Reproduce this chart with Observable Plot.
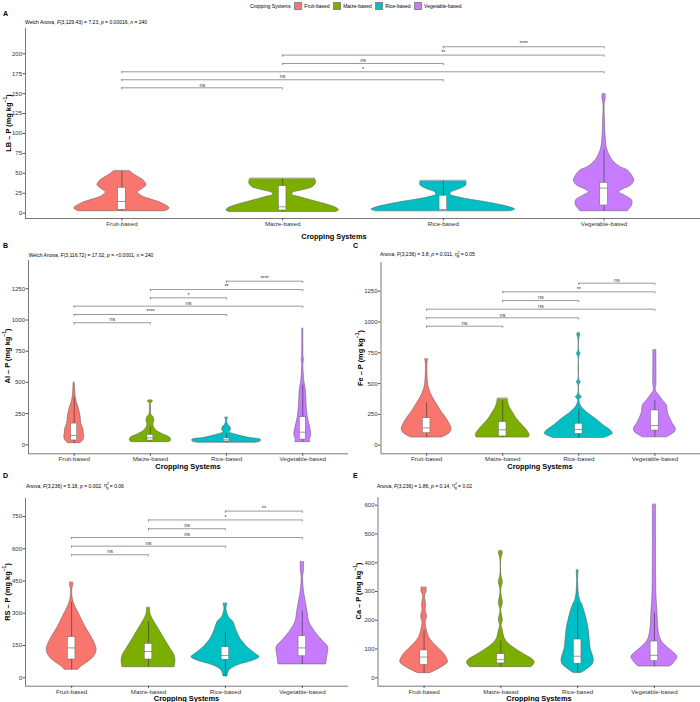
<!DOCTYPE html>
<html><head><meta charset="utf-8">
<script src="https://cdn.jsdelivr.net/npm/d3@7"></script>
<script src="https://cdn.jsdelivr.net/npm/@observablehq/plot@0.6"></script>
<style>
body{margin:0;background:#fff;font-family:"Liberation Sans",Arial,sans-serif;}
#root{position:relative;width:700px;height:702px;overflow:hidden;background:#fff;}
#root svg{position:absolute;left:0;top:0;}
.t{position:absolute;white-space:nowrap;color:#000;line-height:1;}
.sub{font-size:5px;transform:translateY(-50%);}
.let{font-size:7px;font-weight:bold;transform:translateY(-50%);}
.xt{font-size:7.4px;font-weight:bold;transform:translate(-50%,-50%);}
.yt{font-size:7.4px;font-weight:bold;transform:translate(-50%,-50%) rotate(-90deg);}
.yt sup{font-size:5px;vertical-align:4px;}
.eta sup{font-size:3.6px;vertical-align:2.5px;}
.eta sub{font-size:3.6px;vertical-align:-1.5px;margin-left:-2.2px;}
.leg{font-size:5px;display:flex;align-items:center;top:2px;left:250px;height:8px;}
.sw{display:inline-block;width:6.5px;height:6.5px;border:0.5px solid #888;margin:0 2px 0 3px;}
</style></head><body><div id="root"></div>
<script>
// ---------- data ----------
const categories = ["Fruit-based", "Maize-based", "Rice-based", "Vegetable-based"];
const colors = ["#F8766D", "#7CAE00", "#00BFC4", "#C77CFF"];

// violin profiles: [value (mg/kg), relative half-width]
const lbFruit = [[52.7,0.05],[48,0.08],[41,0.135],[35,0.152],[30,0.125],[26.3,0.1],[22,0.12],[18,0.168],[12,0.255],[6,0.297],[2.5,0.27]];
const lbMaize = [[43,0.202],[38,0.208],[33,0.19],[29,0.13],[25.5,0.065],[23,0.06],[20,0.11],[15,0.2],[10,0.29],[6,0.34],[3.5,0.35],[1.5,0.33]];
const lbRice = [[40.2,0.142],[35,0.143],[30,0.1],[26,0.05],[23,0.045],[20,0.09],[16,0.2],[11.8,0.32],[7,0.42],[4.5,0.447],[2.3,0.42]];
const lbVeg = [[149,0.01],[143,0.01],[137,0.004],[115,0.006],[95,0.01],[80,0.02],[66,0.054],[58,0.1],[53.6,0.148],[47,0.175],[41,0.188],[35,0.17],[30,0.12],[26.3,0.094],[22,0.13],[16,0.175],[10,0.175],[5.5,0.16],[2.5,0.148]];

const alFruit = [[497,0.007],[440,0.013],[380,0.02],[330,0.04],[280,0.065],[220,0.085],[170,0.092],[130,0.118],[90,0.125],[60,0.131],[35,0.118],[13,0.08]];
const alMaize = [[355,0.026],[347,0.033],[328,0.007],[300,0.007],[240,0.013],[221,0.04],[195,0.052],[155,0.04],[115,0.08],[80,0.18],[56,0.26],[34,0.27],[21,0.25]];
const alRice = [[216,0.02],[195,0.007],[160,0.02],[147,0.046],[135,0.055],[120,0.059],[101,0.04],[80,0.13],[56,0.29],[40,0.45],[26,0.445],[16,0.37]];
const alVeg = [[929,0.007],[800,0.007],[702,0.01],[680,0.016],[650,0.008],[515,0.02],[489,0.026],[435,0.04],[301,0.052],[221,0.066],[168,0.085],[115,0.105],[75,0.111],[42,0.092],[21,0.098]];

const feFruit = [[696,0.02],[674,0.013],[633,0.009],[498,0.02],[444,0.04],[390,0.079],[336,0.131],[282,0.184],[227,0.25],[174,0.302],[133,0.328],[106,0.315],[87,0.28],[62,0.2]];
const feMaize = [[376,0.066],[349,0.072],[308,0.092],[268,0.131],[214,0.184],[160,0.263],[114,0.328],[79,0.355],[62,0.342]];
const feRice = [[909,0.015],[895,0.02],[870,0.007],[760,0.007],[742,0.026],[720,0.007],[530,0.007],[511,0.026],[490,0.007],[410,0.01],[390,0.04],[370,0.01],[322,0.026],[268,0.105],[214,0.223],[160,0.328],[119,0.42],[92,0.447],[75,0.4],[58,0.33]];
const feVeg = [[769,0.02],[700,0.02],[490,0.02],[444,0.013],[417,0.04],[363,0.105],[322,0.158],[268,0.17],[222,0.197],[174,0.236],[133,0.276],[106,0.263],[79,0.2],[64,0.16]];

const rsFruit = [[442,0.02],[429,0.02],[406,0.007],[359,0.02],[328,0.052],[282,0.117],[235,0.182],[189,0.26],[150,0.312],[127,0.325],[96,0.286],[65,0.18],[50,0.12],[37,0.09]];
const rsMaize = [[325,0.02],[297,0.026],[266,0.065],[220,0.143],[173,0.22],[135,0.286],[104,0.338],[80,0.35],[49,0.34]];
const rsRice = [[344,0.026],[321,0.013],[282,0.045],[259,0.104],[220,0.143],[181,0.195],[142,0.286],[112,0.39],[96,0.442],[80,0.364],[57,0.156],[34,0.052],[6,0.026]];
const rsVeg = [[537,0.022],[499,0.02],[468,0.01],[406,0.02],[352,0.045],[313,0.065],[259,0.091],[212,0.169],[173,0.26],[142,0.335],[112,0.33],[88,0.32],[62,0.31]];

const caFruit = [[313,0.033],[298,0.033],[286,0.013],[251,0.026],[234,0.02],[211,0.039],[193,0.02],[170,0.033],[141,0.065],[118,0.13],[101,0.196],[78,0.274],[54,0.31],[37,0.235],[16,0.078]];
const caMaize = [[440,0.02],[434,0.026],[414,0.007],[356,0.007],[332,0.026],[310,0.007],[292,0.007],[257,0.026],[240,0.007],[228,0.007],[199,0.026],[182,0.009],[164,0.026],[136,0.052],[112,0.13],[95,0.222],[78,0.326],[60,0.43],[51,0.44],[37,0.4]];
const caRice = [[373,0.013],[332,0.007],[275,0.026],[251,0.065],[217,0.104],[170,0.143],[136,0.156],[101,0.17],[66,0.209],[49,0.202],[31,0.13],[17,0.052]];
const caVeg = [[601,0.02],[500,0.02],[350,0.022],[286,0.026],[228,0.039],[170,0.052],[136,0.078],[112,0.143],[91,0.235],[72,0.3],[58,0.274],[39,0.209]];

// boxplots per category: [q1, median, q3, whisker low, whisker high]
const lbBox = [[4.3,14.7,31.9,2.5,52.7],[3.4,8,33.9,1.5,43],[2.5,4.6,21.8,2.3,40.2],[9.7,31.4,38,2.5,80]];
const alBox = [[35,75,170,13,380],[34,56,80,21,145],[26,40,51,16,88],[42,101,221,21,480]];
const feBox = [[97,141,219,62,344],[71,125,187,62,360],[92,127,174,58,295],[119,160,282,64,363]];
const rsBox = [[85,139,189,37,350],[85,122,158,49,260],[84,104,142,6,210],[100,139,193,62,310]];
const caBox = [[45,72,95,16,165],[50,63,82,37,128],[49,75,133,17,260],[58,78,126,39,225]];

// pairwise comparisons: [group a, group b, bracket value, label]
const lbSig = [[1,2,157.3,"ns"],[1,3,167.4,"ns"],[1,4,177.4,"*"],[2,3,187.8,"ns"],[2,4,198.3,"**"],[3,4,208.8,"****"]];
const alSig = [[1,2,978,"ns"],[1,3,1044,"****"],[1,4,1111,"ns"],[2,3,1178,"*"],[2,4,1244,"**"],[3,4,1311,"****"]];
const feSig = [[1,2,966,"ns"],[1,3,1034,"ns"],[1,4,1104,"ns"],[2,3,1174,"ns"],[2,4,1245,"**"],[3,4,1315,"ns"]];
const rsSig = [[1,2,572,"ns"],[1,3,612,"ns"],[1,4,652,"ns"],[2,3,693,"ns"],[2,4,734,"*"],[3,4,775,"**"]];

// tick values
const lbTicks = [0,25,50,75,100,125,150,175,200];
const alTicks = [0,250,500,750,1000,1250];
const feTicks = [0,250,500,750,1000,1250];
const rsTicks = [0,150,300,450,600,750];
const caTicks = [0,100,200,300,400,500,600];

// ---------- drawing ----------
const root = document.getElementById("root");
const FONT = '"Liberation Sans", Arial, sans-serif';

function panel(cfg) {
  const {left, right, top, bottom, ymin, ymax, ticks, violins, boxes, sig, boxPx} = cfg;
  const spacing = (right - left) / 4.2;
  const kY = (bottom - top) / (ymax - ymin);
  const bw = boxPx / spacing;
  const vdata = [];
  violins.forEach((prof, i) => prof.forEach(([v, w]) => vdata.push({cat: categories[i], pos: i + 1, v, w})));
  const bdata = boxes.map((b, i) => ({cat: categories[i], pos: i + 1, q1: b[0], med: b[1], q3: b[2], lo: b[3], hi: b[4]}));
  const sdata = (sig || []).map(([a, b, y, lab]) => ({a, b, y, lab}));
  const tip = 2.2 / kY;
  const marks = [
    Plot.areaX(vdata, {y: "v", x1: d => d.pos - d.w, x2: d => d.pos + d.w, z: "cat", fill: "cat",
      stroke: "#555", strokeWidth: 0.5, curve: "catmull-rom"}),
    Plot.ruleX(bdata, {x: "pos", y1: "lo", y2: "hi", stroke: "#333", strokeWidth: 0.6}),
    Plot.rect(bdata, {x1: d => d.pos - bw, x2: d => d.pos + bw, y1: "q1", y2: "q3", fill: "white", stroke: "#666", strokeWidth: 0.5}),
    Plot.ruleY(bdata, {y: "med", x1: d => d.pos - bw, x2: d => d.pos + bw, stroke: "#555", strokeWidth: 0.6}),
    Plot.ruleY(sdata, {y: "y", x1: "a", x2: "b", stroke: "#555", strokeWidth: 0.6}),
    Plot.ruleX(sdata, {x: "a", y1: "y", y2: d => d.y - tip, stroke: "#555", strokeWidth: 0.6}),
    Plot.ruleX(sdata, {x: "b", y1: "y", y2: d => d.y - tip, stroke: "#555", strokeWidth: 0.6}),
    Plot.text(sdata, {x: d => (d.a + d.b) / 2, y: "y", text: "lab", dy: -3, fontSize: 5.4, fill: "#333"}),
    Plot.ruleX([0.4], {stroke: "#555", strokeWidth: 0.8}),
    Plot.ruleY([ymin], {stroke: "#555", strokeWidth: 0.8}),
    Plot.axisY({ticks, tickFormat: d => String(d), tickSize: 2.5, tickPadding: 1, fontSize: 6, label: null, stroke: "#555", fill: "#333"}),
    Plot.axisX({ticks: [1, 2, 3, 4], tickFormat: i => categories[i - 1], tickSize: 2.5, tickPadding: 0.5, fontSize: 6.2, label: null, stroke: "#555", fill: "#333"})
  ];
  const svg = Plot.plot({
    width: 700, height: 702,
    marginLeft: left, marginRight: 700 - right, marginTop: top, marginBottom: 702 - bottom,
    x: {domain: [0.4, 4.6]},
    y: {domain: [ymin, ymax]},
    color: {domain: categories, range: colors},
    style: {background: "transparent", overflow: "visible", fontFamily: FONT, color: "#333"},
    marks
  });
  root.appendChild(svg);
}

panel({left: 25, right: 700, top: 28, bottom: 218, ymin: -6.65, ymax: 231.7, ticks: lbTicks,
  violins: [lbFruit, lbMaize, lbRice, lbVeg], boxes: lbBox, sig: lbSig, boxPx: 3.8});
panel({left: 28, right: 348, top: 260, bottom: 453.3, ymin: -72.1, ymax: 1476.8, ticks: alTicks,
  violins: [alFruit, alMaize, alRice, alVeg], boxes: alBox, sig: alSig, boxPx: 3});
panel({left: 380.5, right: 700, top: 262, bottom: 453.3, ymin: -69.8, ymax: 1483, ticks: feTicks,
  violins: [feFruit, feMaize, feRice, feVeg], boxes: feBox, sig: feSig, boxPx: 3.8});
panel({left: 25, right: 348, top: 498, bottom: 685.7, ymin: -39.1, ymax: 833.6, ticks: rsTicks,
  violins: [rsFruit, rsMaize, rsRice, rsVeg], boxes: rsBox, sig: rsSig, boxPx: 3.8});
panel({left: 377.5, right: 700, top: 497, bottom: 685.7, ymin: -29.2, ymax: 626.7, ticks: caTicks,
  violins: [caFruit, caMaize, caRice, caVeg], boxes: caBox, sig: null, boxPx: 3.8});

// ---------- text ----------
function addText(cls, x, y, html) {
  const d = document.createElement("div");
  d.className = "t " + cls;
  d.style.left = x + "px";
  d.style.top = y + "px";
  d.innerHTML = html;
  root.appendChild(d);
}
const eta = '<span class="eta">η<sup>2</sup><sub>g</sub></span>';
addText("let", 3, 13, "A"); addText("let", 3, 245, "B"); addText("let", 353, 245, "C");
addText("let", 3, 475, "D"); addText("let", 353, 475, "E");
addText("sub", 25, 22, "Welch Anova, <i>F</i>(3,129.43) = 7.23, <i>p</i> = 0.00016, <i>n</i> = 240");
addText("sub", 28.7, 255, "Welch Anova, <i>F</i>(3,116.72) = 17.02, <i>p</i> = &lt;0.0001, <i>n</i> = 240");
addText("sub", 380, 255, "Anova, <i>F</i>(3,236) = 3.8, <i>p</i> = 0.011, " + eta + " = 0.05");
addText("sub", 26, 486.7, "Anova, <i>F</i>(3,236) = 5.18, <i>p</i> = 0.002, " + eta + " = 0.06");
addText("sub", 377, 486.7, "Anova, <i>F</i>(3,236) = 1.86, <i>p</i> = 0.14, " + eta + " = 0.02");
addText("xt", 334, 236.5, "Cropping Systems");
addText("xt", 188, 467, "Cropping Systems");
addText("xt", 540, 467, "Cropping Systems");
addText("xt", 186.5, 699, "Cropping Systems");
addText("xt", 539, 699, "Cropping Systems");
addText("yt", 8, 123, "LB – P (mg kg<sup>−1</sup>)");
addText("yt", 7, 356, "Al – P (mg kg<sup>−1</sup>)");
addText("yt", 360, 358, "Fe – P (mg kg<sup>−1</sup>)");
addText("yt", 7, 592, "RS – P (mg kg<sup>−1</sup>)");
addText("yt", 358, 591, "Ca – P (mg kg<sup>−1</sup>)");
// legend
const leg = document.createElement("div");
leg.className = "t leg";
leg.innerHTML = "<span>Cropping Systems</span>" + categories.map((c, i) =>
  `<span class="sw" style="background:${colors[i]}"></span><span>${c}</span>`).join("");
root.appendChild(leg);
</script></body></html>
